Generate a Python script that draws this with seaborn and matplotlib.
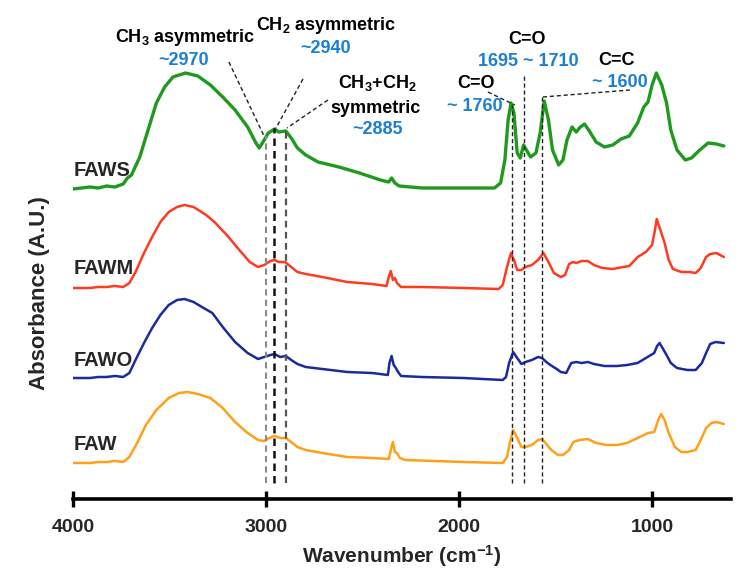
import matplotlib
matplotlib.use("Agg")
import matplotlib.pyplot as plt
import numpy as np
import pandas as pd
import seaborn as sns

# FTIR spectra: wavenumber (cm-1) and absorbance (a.u.)
faws_wn = [4000, 3912, 3869, 3826, 3783, 3740, 3718, 3697, 3654, 3611, 3568, 3525, 3482,
           3417, 3353, 3288, 3224, 3160, 3095, 3052, 3035, 3009, 2988, 2955, 2934, 2897,
           2869, 2837, 2794, 2730, 2622, 2515, 2407, 2364, 2349, 2332, 2310, 2192, 1977,
           1816, 1784, 1762, 1745, 1730, 1715, 1698, 1682, 1665, 1650, 1629, 1601, 1579,
           1558, 1536, 1515, 1483, 1461, 1440, 1414, 1392, 1371, 1349, 1321, 1289, 1246,
           1203, 1160, 1117, 1074, 1042, 1020, 999, 977, 949, 924, 902, 870, 827, 795,
           752, 709, 666, 627]
faws_abs = [0.00, 0.02, 0.01, 0.03, 0.02, 0.05, 0.11, 0.14, 0.32, 0.59, 0.86, 1.02, 1.12,
            1.16, 1.13, 1.04, 0.92, 0.79, 0.62, 0.46, 0.41, 0.49, 0.56, 0.60, 0.57, 0.58,
            0.51, 0.41, 0.34, 0.27, 0.22, 0.16, 0.09, 0.07, 0.11, 0.06, 0.03, 0.01, 0.01,
            0.01, 0.06, 0.29, 0.69, 0.86, 0.76, 0.36, 0.31, 0.44, 0.39, 0.32, 0.36, 0.56,
            0.88, 0.69, 0.39, 0.24, 0.29, 0.49, 0.62, 0.57, 0.62, 0.65, 0.57, 0.47, 0.42,
            0.44, 0.50, 0.53, 0.66, 0.82, 0.87, 1.04, 1.16, 1.04, 0.86, 0.59, 0.39, 0.29,
            0.31, 0.39, 0.46, 0.45, 0.43]

fawm_wn = [4000, 3912, 3869, 3826, 3783, 3740, 3708, 3676, 3632, 3590, 3547, 3504, 3461,
           3422, 3375, 3310, 3267, 3203, 3138, 3084, 3041, 3009, 2977, 2955, 2934, 2902,
           2869, 2837, 2794, 2708, 2579, 2450, 2375, 2364, 2353, 2342, 2332, 2321, 2300,
           2192, 1977, 1794, 1773, 1751, 1730, 1715, 1698, 1676, 1655, 1622, 1590, 1562,
           1536, 1508, 1472, 1450, 1429, 1407, 1392, 1364, 1332, 1300, 1257, 1203, 1149,
           1117, 1074, 1031, 999, 984, 975, 956, 934, 913, 891, 848, 805, 773, 747, 719,
           698, 666, 627]
fawm_abs = [0.00, 0.00, 0.01, 0.01, 0.02, 0.01, 0.05, 0.16, 0.35, 0.51, 0.66, 0.76, 0.81,
            0.83, 0.81, 0.73, 0.66, 0.53, 0.38, 0.26, 0.21, 0.23, 0.27, 0.28, 0.26, 0.26,
            0.21, 0.16, 0.14, 0.11, 0.06, 0.04, 0.02, 0.11, 0.17, 0.08, 0.10, 0.05, 0.01,
            0.01, 0.00, -0.01, 0.03, 0.21, 0.35, 0.28, 0.18, 0.18, 0.21, 0.23, 0.28, 0.35,
            0.26, 0.15, 0.11, 0.13, 0.24, 0.26, 0.25, 0.27, 0.27, 0.23, 0.20, 0.19, 0.21,
            0.22, 0.31, 0.36, 0.43, 0.58, 0.69, 0.58, 0.45, 0.28, 0.19, 0.16, 0.16, 0.15,
            0.20, 0.31, 0.34, 0.35, 0.31]

fawo_wn = [4000, 3912, 3869, 3826, 3783, 3740, 3708, 3676, 3632, 3590, 3547, 3504, 3461,
           3422, 3375, 3332, 3278, 3224, 3160, 3095, 3041, 3009, 2977, 2955, 2927, 2897,
           2869, 2837, 2794, 2708, 2579, 2450, 2368, 2360, 2349, 2338, 2327, 2315, 2300,
           2192, 1977, 1773, 1756, 1740, 1719, 1698, 1676, 1655, 1622, 1590, 1569, 1547,
           1526, 1493, 1472, 1444, 1418, 1392, 1364, 1332, 1300, 1246, 1182, 1128, 1074,
           1031, 988, 973, 960, 945, 924, 902, 870, 816, 773, 741, 719, 698, 670, 627]
fawo_abs = [0.00, 0.00, 0.01, 0.01, 0.02, 0.01, 0.05, 0.18, 0.35, 0.50, 0.63, 0.73, 0.78,
            0.79, 0.76, 0.71, 0.65, 0.51, 0.36, 0.25, 0.19, 0.21, 0.23, 0.24, 0.21, 0.22,
            0.18, 0.14, 0.11, 0.09, 0.06, 0.05, 0.03, 0.15, 0.22, 0.13, 0.10, 0.06, 0.02,
            0.01, 0.00, -0.02, 0.01, 0.15, 0.26, 0.20, 0.14, 0.16, 0.18, 0.21, 0.20, 0.16,
            0.13, 0.09, 0.06, 0.05, 0.15, 0.16, 0.15, 0.16, 0.14, 0.12, 0.12, 0.13, 0.15,
            0.20, 0.25, 0.32, 0.35, 0.30, 0.23, 0.15, 0.10, 0.08, 0.08, 0.15, 0.25, 0.34,
            0.36, 0.35]

faw_wn = [4000, 3912, 3869, 3826, 3783, 3740, 3708, 3665, 3622, 3568, 3504, 3450, 3407,
          3353, 3288, 3224, 3160, 3095, 3041, 3009, 2983, 2955, 2927, 2897, 2869, 2837,
          2794, 2708, 2579, 2450, 2364, 2353, 2342, 2332, 2321, 2306, 2278, 1977, 1773,
          1751, 1736, 1719, 1698, 1676, 1655, 1622, 1590, 1569, 1547, 1521, 1487, 1461,
          1429, 1407, 1375, 1332, 1289, 1235, 1182, 1128, 1074, 1020, 988, 967, 952, 934,
          913, 881, 848, 816, 773, 747, 719, 691, 666, 627]
faw_abs = [0.00, 0.00, 0.01, 0.01, 0.02, 0.01, 0.06, 0.21, 0.38, 0.53, 0.65, 0.70, 0.71,
           0.69, 0.65, 0.55, 0.41, 0.30, 0.23, 0.22, 0.25, 0.27, 0.25, 0.25, 0.21, 0.16,
           0.13, 0.10, 0.06, 0.05, 0.04, 0.13, 0.21, 0.11, 0.10, 0.05, 0.03, 0.01, 0.00,
           0.06, 0.20, 0.33, 0.25, 0.16, 0.16, 0.18, 0.23, 0.24, 0.19, 0.13, 0.08, 0.08,
           0.13, 0.21, 0.23, 0.24, 0.20, 0.18, 0.18, 0.20, 0.25, 0.30, 0.31, 0.43, 0.49,
           0.43, 0.30, 0.16, 0.11, 0.11, 0.13, 0.23, 0.35, 0.40, 0.41, 0.39]

samples = ["FAWS", "FAWM", "FAWO", "FAW"]
offsets = [3.10, 2.11, 1.21, 0.36]
colors = ["#1f9a1f", "#ff3b1f", "#1b2a9e", "#ffa01a"]
widths = [2.4, 1.8, 1.8, 1.8]
label_y = [3.29, 2.31, 1.38, 0.54]

# band assignments: dashed markers and their labels
band_wn = [3000, 2959, 2898, 1725, 1663, 1570]
band_top = [3.63, 3.71, 3.69, 3.94, 4.24, 4.02]
band_colors = ["#8a8a8a", "#111111", "#555555", "#222222", "#222222", "#222222"]
band_lw = [1.5, 1.8, 1.6, 1.0, 1.0, 1.0]

sns.set_theme(style="white")
plt.rcParams["font.family"] = ["Liberation Sans", "DejaVu Sans"]
plt.rcParams["mathtext.fontset"] = "custom"
plt.rcParams["mathtext.rm"] = "Liberation Sans:bold"
plt.rcParams["mathtext.default"] = "rm"

spectra = [(faws_wn, faws_abs), (fawm_wn, fawm_abs), (fawo_wn, fawo_abs), (faw_wn, faw_abs)]
frames = []
for name, off, (wn, ab) in zip(samples, offsets, spectra):
    frames.append(pd.DataFrame({"sample": name, "wavenumber": wn,
                                "y": np.array(ab) + off}))
df = pd.concat(frames, ignore_index=True)

fig = plt.figure(figsize=(7.42, 5.83), dpi=100)
ax = fig.add_axes([73 / 742, 84 / 583, 658 / 742, 499 / 583])

for name, color, lw in zip(samples, colors, widths):
    sns.lineplot(data=df[df["sample"] == name], x="wavenumber", y="y", color=color,
                 linewidth=lw, sort=False, estimator=None, ax=ax)

for wn, top, c, lw in zip(band_wn, band_top, band_colors, band_lw):
    ax.plot([wn, wn], [0.16, top], linestyle=(0, (3, 2)), color=c, linewidth=lw)

# pointer lines from labels to the bands
pointers = [((3192, 4.37), (3010, 3.63)), ((2808, 4.20), (2948, 3.71)),
            ((2679, 3.99), (2891, 3.71)), ((1850, 4.07), (1710, 3.94)),
            ((1565, 4.02), (1114, 4.09))]
for (x0, y0), (x1, y1) in pointers:
    ax.plot([x0, x1], [y0, y1], linestyle=(0, (3, 2)), color="#222222", linewidth=1.0)

blue = "#1b7fd4"
texts = [
    (3420, 4.61, "CH$_3$ asymmetric", "black"),
    (3425, 4.39, "~2970", blue),
    (2689, 4.73, "CH$_2$ asymmetric", "black"),
    (2689, 4.51, "~2940", blue),
    (2420, 4.16, "CH$_3$+CH$_2$", "black"),
    (2430, 3.91, "symmetric", "black"),
    (2420, 3.70, "~2885", blue),
    (1648, 4.59, "C=O", "black"),
    (1642, 4.37, "1695 ~ 1710", blue),
    (1912, 4.16, "C=O", "black"),
    (1917, 3.93, "~ 1760", blue),
    (1181, 4.39, "C=C", "black"),
    (1166, 4.17, "~ 1600", blue),
]
for x, y, s, c in texts:
    ax.text(x, y, s, color=c, fontsize=13, fontweight="bold", ha="center", va="center")

for name, y in zip(samples, label_y):
    ax.text(3995, y, name, fontsize=14.5, fontweight="bold", ha="left", va="center")

ax.set_xlim(4000, 590)
ax.set_ylim(0, 4.99)
ax.set_xticks([4000, 3000, 2000, 1000])
ax.set_yticks([])
for side in ["top", "right", "left"]:
    ax.spines[side].set_visible(False)
ax.spines["bottom"].set_linewidth(2.6)
ax.spines["bottom"].set_color("black")
ax.tick_params(axis="x", direction="inout", length=11, width=2.4, color="black",
               labelsize=14, pad=9, bottom=True)
for lab in ax.get_xticklabels():
    lab.set_fontweight("bold")
ax.set_xlabel("Wavenumber (cm$^{-1}$)", fontsize=15, fontweight="bold", labelpad=5)
ax.set_ylabel("")
fig.text(40 / 742, 1 - 293 / 583, "Absorbance (A.U.)", rotation=90, fontsize=16,
         fontweight="bold", ha="center", va="center")

fig.savefig("out.png", dpi=100)
